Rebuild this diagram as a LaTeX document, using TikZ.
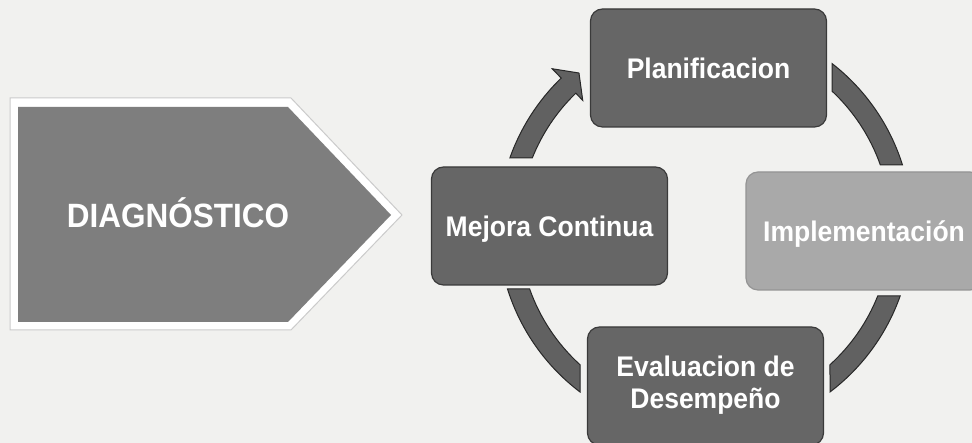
\documentclass[tikz,border=0pt]{standalone}
\usepackage{fontspec}
\setmainfont{Liberation Sans}
\usetikzlibrary{calc}

\definecolor{paper}{HTML}{F1F1EF}
\definecolor{boxdark}{HTML}{666666}
\definecolor{boxedge}{HTML}{3A3A3A}
\definecolor{boxlight}{HTML}{A9A9A9}
\definecolor{boxlightedge}{HTML}{949494}
\definecolor{ringfill}{HTML}{616161}
\definecolor{ringedge}{HTML}{282828}
\definecolor{chevfill}{HTML}{7E7E7E}
\definecolor{chevrim}{HTML}{CBCBCB}

% lettering is set slightly taller than wide
\newcommand{\tallish}[1]{\scalebox{1}[1.07]{#1}}

\begin{document}
\begin{tikzpicture}[x=1pt,y=1pt,
  stage/.style={draw=boxedge, fill=boxdark, line width=1.2pt,
    rounded corners=12pt, minimum width=236pt, minimum height=118pt,
    inner sep=0pt, text=white,
    font=\fontsize{26.5}{30}\selectfont\bfseries, align=center},
  stagelight/.style={stage, draw=boxlightedge, fill=boxlight},
  ring/.style={fill=ringfill, draw=ringedge, line width=1pt, line join=miter}
]
% paper
\fill[paper] (0,0) rectangle (972,443);
\useasboundingbox (0,0) rectangle (972,443);

% DIAGNOSTICO chevron: white rim, then the grey body
\draw[draw=chevrim, line width=1pt, fill=white]
  (10,345) -- (291,345) -- (402,228) -- (291,113) -- (10,113) -- cycle;
\fill[chevfill]
  (18,336) -- (288,336) -- (391,228) -- (288,121) -- (18,121) -- cycle;
\node[text=white, font=\fontsize{31.5}{36}\selectfont\bfseries, inner sep=0pt]
  (diag) at (178,230) {\tallish{DIAGNÓSTICO}};

% cycle of stages
\node[stage] (plan) at (708.5,375) {\tallish{Planificacion}};
\node[stage, text depth=0pt] (mejora) at (549.5,217) {\tallish{Mejora Continua}};
\node[stagelight, text depth=0pt] (impl) at (864,212) {\tallish{Implementación}};
\node[stage] (eval) at (705.5,57)
  {\raisebox{2pt}{\tallish{\begin{tabular}{@{}c@{}}Evaluacion de\\Desempeño\end{tabular}}}};

% ring segments around the common centre
\coordinate (C) at (705,216);
% Planificacion -> Implementacion
\draw[ring] ($(C)+(52.15:207)$) arc[start angle=52.15, end angle=17.43, radius=207]
  -- ($(C)+(19.47:186)$) arc[start angle=19.47, end angle=46.93, radius=186] -- cycle;
% Implementacion -> Evaluacion
\draw[ring] ($(C)+(-19.47:207)$) arc[start angle=-19.47, end angle=-52.85, radius=207]
  -- ($(C)+(-47.78:186)$) arc[start angle=-47.78, end angle=-21.78, radius=186] -- cycle;
% Evaluacion -> Mejora
\draw[ring] ($(C)+(232.85:207)$) arc[start angle=232.85, end angle=197.43, radius=207]
  -- ($(C)+(199.47:186)$) arc[start angle=199.47, end angle=227.78, radius=186] -- cycle;
% Mejora -> Planificacion, with arrowhead
\draw[ring] ($(C)+(160.53:207)$) arc[start angle=160.53, end angle=134, radius=207]
  -- ($(C)+(134:220)$) -- ($(C)+(129.3:199)$) -- ($(C)+(134:176)$)
  -- ($(C)+(134:186)$) arc[start angle=134, end angle=158.22, radius=186] -- cycle;
\end{tikzpicture}
\end{document}
